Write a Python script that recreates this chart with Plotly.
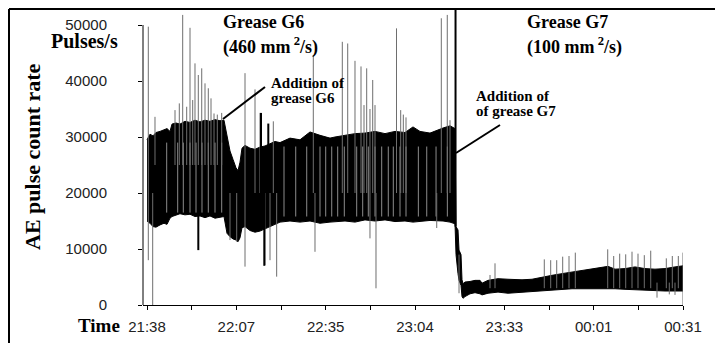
import plotly.graph_objects as go

# ---------------- data (minutes after 21:38, pulses/s) ----------------
tick_labels = ["21:38", "22:07", "22:35", "23:04", "23:33", "00:01", "00:31"]
y_ticks = [0, 10000, 20000, 30000, 40000, 50000]
y_tick_labels = ["0", "10000", "20000", "30000", "40000", "50000"]

band_t = [0, 0.97, 1.94, 2.90, 4.20, 5.49, 6.46, 7.42, 8.07, 9.36, 10.65, 12.26, 13.88,
          15.49, 17.11, 18.72, 20.33, 21.95, 23.56, 24.85, 25.82, 26.79, 27.76, 28.73,
          29.37, 30.02, 30.66, 31.63, 33.25, 34.86, 36.47, 38.09, 39.70, 41.31, 42.93,
          46.15, 49.38, 52.61, 55.84, 59.07, 60.68, 63.91, 67.13, 70.36, 73.59, 76.82,
          80.04, 83.27, 85.85, 88.11, 91.34, 95.54, 97.80, 99.41, 99.74, 100.38, 100.71,
          101.35, 101.67, 102.0, 102.64, 104.26, 105.87, 107.49, 108.13, 110.06, 113.29,
          116.52, 121.04, 124.27, 127.49, 130.72, 133.95, 137.18, 140.40, 143.63, 146.86,
          148.80, 151.06, 154.28, 157.51, 160.73, 163.96, 167.19, 170.42, 173.0]
band_hi = [29500, 30500, 30200, 30800, 31000, 31300, 31500, 31000, 32300, 32500, 32300, 32800, 32600,
           33000, 32700, 33000, 32800, 33100, 32900, 33000, 30000, 27500, 26000, 24500,
           24000, 25500, 28000, 28500, 28000, 27800, 28200, 28400, 28800, 29200, 29000,
           29800, 29500, 30900, 30300, 29800, 30000, 30300, 30600, 30700, 31000, 30600,
           31000, 30800, 31800, 31000, 30700, 31600, 32000, 31500, 14000, 13400, 9800,
           9000, 4500, 3800, 4100, 4200, 4400, 4400, 3900, 4400, 4700,
           4600, 4500, 4600, 5000, 5300, 5600, 5900, 6200, 6500, 6700,
           6900, 6400, 6500, 6800, 6500, 6400, 6500, 6800, 7000]
band_lo = [15000, 14600, 14000, 13900, 14300, 14600, 14400, 15500, 15800, 16000, 16300, 16100, 16200,
           15800, 15900, 15600, 15900, 15500, 15700, 15800, 12800, 12200, 11800, 11600,
           11300, 12000, 13800, 14000, 13300, 13000, 13200, 13600, 14000, 14300, 14800,
           15000, 14800, 15000, 14600, 14800, 14900, 15000, 14800, 15200, 15000, 15200,
           14900, 15000, 14800, 14900, 15100, 15000, 14800, 14500, 9000, 5600, 4400,
           3500, 1500, 1200, 1500, 2000, 2200, 2000, 1800, 2100, 2300,
           2100, 2300, 2400, 2600, 2700, 2800, 2900, 2900, 2900, 3000,
           3000, 2900, 2800, 2700, 2700, 2600, 2500, 2500, 2500]

# thin (grey-looking) spikes: time, low end, high end
spike_t = [0.42, 1.84, 2.58, 9.04, 10.43, 11.52, 12.81, 13.88, 14.75, 15.49, 16.56, 17.66,
           18.72, 19.79, 20.66, 21.63, 22.69, 24.11, 26.79, 28.95, 31.63, 34.86, 36.47, 38.09,
           39.70, 40.77, 41.85, 53.68, 54.22, 63.04, 64.78, 67.13, 69.07, 70.04, 70.91, 71.97,
           72.85, 73.59, 73.91, 80.53, 81.88, 82.73, 83.60, 93.51, 94.99, 96.92, 97.80, 100.71,
           110.71, 112.32, 128.23, 130.30, 132.24, 134.17, 136.21, 138.24, 148.70, 150.63,
           152.57, 154.51, 156.54, 158.48, 160.51, 162.58, 164.61, 167.61, 168.58, 169.55,
           170.42, 171.49, 173.0]
spike_lo = [8000, 0, 25000, 25000, 25000, 25000, 25000, 25000, 25000, 25000, 25000, 25000,
            25000, 25000, 25000, 25000, 25000, 25000, 11600, 11300, 6850, 20000, 20000, 7140,
            8000, 20000, 5060, 20000, 9500, 20000, 20000, 20000, 20000, 20000, 20000, 11900,
            20000, 20000, 2980, 20000, 20000, 20000, 20000, 13750, 20000, 20000, 20000, 2100,
            3000, 3000, 3000, 3000, 3000, 3000, 3000, 3000, 3000, 3000,
            3000, 3000, 3000, 3000, 3000, 3000, 1310, 3000, 1900, 3000,
            1800, 3000, 0]
spike_hi = [49700, 20000, 33600, 34800, 36000, 51800, 35400, 49500, 36600, 43150, 41070, 42260,
            39580, 38700, 36900, 34200, 34000, 34300, 20000, 20000, 41400, 38500, 34300, 20000,
            20000, 32800, 20000, 44640, 20000, 47000, 46700, 43600, 42600, 35700, 42260, 35000,
            40180, 35700, 20000, 49400, 34800, 34000, 33500, 20000, 51200, 51800, 33000, 9000,
            5360, 7440, 8150, 8000, 8000, 8630, 8750, 9350, 9940, 8750,
            9170, 9050, 9520, 9170, 8900, 9700, 4000, 8330, 4000, 8750,
            4000, 8750, 9350]

# dark spikes
dark_t = [16.56, 36.79, 37.86, 39.15, 99.58]
dark_lo = [9800, 20000, 7000, 20000, 14000]
dark_hi = [20000, 34300, 20000, 32400, 52800]

# light stripes inside the dense band
gap_t = [6.36, 9.91, 11.72, 13.88, 15.82, 17.75, 19.79, 21.95, 24.11,
         44.22, 48.0, 51.55, 55.84, 57.68, 59.62, 61.55, 63.68, 67.68, 69.62, 71.43,
         73.59, 75.75, 77.88, 79.50, 81.66, 83.60, 87.58, 90.29, 93.29, 96.94]
gap_lo = [16500] * 9 + [15800] * 21
gap_hi = [29000] * 9 + [28300] * 21

# ---------------- figure ----------------
# The page body has an 8 px margin, so the figure is drawn 8 px in from the window corner.
OFF = 8
W, H = 723 - 2 * OFF, 351 - 2 * OFF
PL, PR, PT, PB = 143, 683, OFF, 305          # plot area in window pixels
L, R, T, B = PL - OFF, W - (PR - OFF), PT - OFF, H - (PB - OFF)
PLOT_W, PLOT_H = PR - PL, PB - PT
X_MIN, X_MAX = -1.291, 173.0
Y_MAX = PLOT_H / 0.0056


def px(x):
    return (x - PL) / PLOT_W


def py(y):
    return (PB - y) / PLOT_H


def segs(ts, los, his):
    xs, ys = [], []
    for t, lo, hi in zip(ts, los, his):
        xs += [t, t, None]
        ys += [lo, hi, None]
    return xs, ys


fig = go.Figure()
fig.add_trace(go.Scatter(x=band_t, y=band_lo, mode="lines",
                         line=dict(color="black", width=1), hoverinfo="skip"))
fig.add_trace(go.Scatter(x=band_t, y=band_hi, mode="lines", fill="tonexty",
                         fillcolor="black", line=dict(color="black", width=1),
                         hoverinfo="skip"))
gx, gy = segs(gap_t, gap_lo, gap_hi)
fig.add_trace(go.Scatter(x=gx, y=gy, mode="lines",
                         line=dict(color="#8c8c8c", width=1), hoverinfo="skip"))
sx, sy = segs(spike_t, spike_lo, spike_hi)
fig.add_trace(go.Scatter(x=sx, y=sy, mode="lines",
                         line=dict(color="#6e6e6e", width=1), hoverinfo="skip"))
dx, dy = segs(dark_t, dark_lo, dark_hi)
fig.add_trace(go.Scatter(x=dx, y=dy, mode="lines",
                         line=dict(color="black", width=2), hoverinfo="skip"))

n_ticks = 2 * (len(tick_labels) - 1) + 1
step = X_MAX / (n_ticks - 1)
tickvals = [i * step for i in range(n_ticks)]
ticktext = [tick_labels[i // 2] if i % 2 == 0 else "" for i in range(n_ticks)]

tick_font = dict(family="Arial, Liberation Sans, sans-serif", size=15, color="#222")
serif = "Times New Roman, Liberation Serif, serif"

fig.update_layout(
    width=W, height=H,
    margin=dict(l=L, r=R, t=T, b=B, autoexpand=False),
    paper_bgcolor="white", plot_bgcolor="white",
    showlegend=False,
    xaxis=dict(range=[X_MIN, X_MAX], tickvals=tickvals, ticktext=ticktext,
               showline=True, linecolor="black", linewidth=1, showgrid=False,
               zeroline=False, ticks="outside", ticklen=4, tickcolor="black",
               tickfont=tick_font, ticklabelstandoff=4),
    yaxis=dict(range=[0, Y_MAX], tickvals=y_ticks, ticktext=y_tick_labels,
               showline=False, showgrid=False,
               zeroline=False, ticks="outside", ticklen=4, tickcolor="black",
               tickfont=tick_font, ticklabelstandoff=28),
)

shapes = [
    dict(type="line", xref="paper", yref="y", x0=0, x1=0, y0=0, y1=50000,
         line=dict(color="black", width=1)),
    dict(type="line", xref="paper", yref="paper", x0=px(9), x1=px(730), y0=py(9), y1=py(9),
         line=dict(color="black", width=2)),
    dict(type="line", xref="paper", yref="paper", x0=px(9), x1=px(9), y0=py(9), y1=py(360),
         line=dict(color="black", width=2)),
    dict(type="line", xref="paper", yref="paper", x0=px(223), x1=px(265), y0=py(119), y1=py(87),
         line=dict(color="black", width=2)),
    dict(type="line", xref="paper", yref="paper", x0=px(456), x1=px(500), y0=py(153), y1=py(125),
         line=dict(color="black", width=2)),
]
fig.update_layout(shapes=shapes)


def label(text, x, y, size, xanchor="left", angle=0):
    fig.add_annotation(text=text, xref="paper", yref="paper", x=px(x), y=py(y),
                       xanchor=xanchor, yanchor="middle", showarrow=False, textangle=angle,
                       font=dict(family=serif, size=size, color="black"))


label("<b>Pulses/s</b>", 49, 41, 20)
label("<b>AE pulse count rate</b>", 32, 157, 22, xanchor="center", angle=-90)
label("<b>Time</b>", 76, 325, 19)
label("<b>Grease G6</b>", 221, 22, 18)
label("<b>(460 mm<sup> 2</sup>/s)</b>", 221, 46, 18)
label("<b>Addition of</b>", 269, 83, 15)
label("<b>grease G6</b>", 269, 98, 15)
label("<b>Grease G7</b>", 525, 22, 18)
label("<b>(100 mm<sup> 2</sup>/s)</b>", 525, 46, 18)
label("<b>Addition of</b>", 474, 96, 15)
label("<b>of grease G7</b>", 474, 111, 15)

fig.write_html("out.html")
